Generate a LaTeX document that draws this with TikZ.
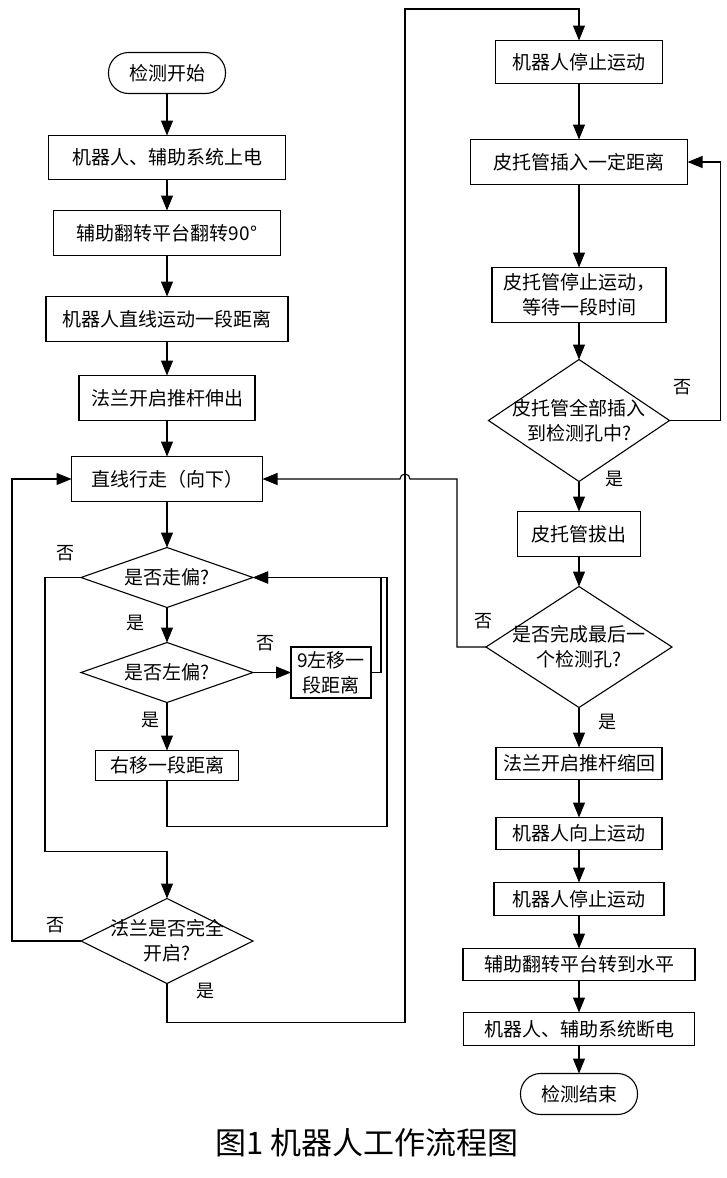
\documentclass[tikz,border=0pt]{standalone}
\usepackage{fontspec}
\setmainfont{Noto Sans CJK SC}
\usetikzlibrary{shapes.geometric, arrows.meta, positioning, calc}

\begin{document}
\begin{tikzpicture}[
    x=1pt, y=-1pt,
    every node/.style={font=\fontsize{19pt}{25pt}\selectfont},
    process/.style={rectangle, draw, line width=1.1pt, inner sep=0pt, outer sep=0pt, align=center, minimum height=45pt},
    terminal/.style={rectangle, draw, rounded corners=20pt, line width=1.1pt, inner sep=0pt, outer sep=0pt, minimum width=117pt, minimum height=41pt},
    decision/.style={diamond, draw, line width=1.1pt, inner sep=0pt, outer sep=0pt, minimum width=172pt, minimum height=60pt},
    yn/.style={inner sep=0pt, font=\fontsize{18pt}{22pt}\selectfont},
    arrow/.style={line width=1.1pt, -{Triangle[length=15pt, width=12pt]}}
]
    \useasboundingbox (0,0) rectangle (727,1178);

    % Left column
    \node[terminal] (start) at (167,73) {检测开始};
    \node[process, minimum width=237pt, minimum height=44pt, below=42pt of start] (power) {机器人、辅助系统上电};
    \node[process, minimum width=227pt, below=31pt of power] (turn) {辅助翻转平台翻转90°};
    \node[process, minimum width=242pt, below=41pt of turn] (move) {机器人直线运动一段距离};
    \node[process, minimum width=176pt, below=34pt of move] (rodout) {法兰开启推杆伸出};
    \node[process, minimum width=191pt, below=36pt of rodout] (walk) {直线行走（向下）};

    % Deviation check
    \node[decision, below=46pt of walk, label={[align=center]center:是否走偏?}] (dev) {};
    \node[decision, below=35pt of dev, label={[align=center]center:是否左偏?}] (left) {};
    \node[process, minimum width=80pt, minimum height=51pt, right=38pt of left] (shiftl) {9左移一\\段距离};
    \node[process, minimum width=143pt, minimum height=30pt, below=48pt of left] (shiftr) {右移一段距离};
    \node[decision, minimum height=85pt, below=118pt of shiftr, label={[align=center]center:法兰是否完全\\开启?}] (open) {};

    % Right column
    \node[process, minimum width=167pt, minimum height=43pt] (stop) at (579,62) {机器人停止运动};
    \node[process, minimum width=217pt, below=56pt of stop] (insert) {皮托管插入一定距离};
    \node[process, minimum width=174pt, minimum height=55pt, below=83pt of insert] (wait) {皮托管停止运动，\\等待一段时间};
    \node[decision, minimum width=181pt, minimum height=122pt, below=37pt of wait, label={[align=center]center:皮托管全部插入\\到检测孔中?}] (full) {};
    \node[process, minimum width=123pt, below=30pt of full] (pull) {皮托管拔出};
    \node[decision, minimum width=186pt, minimum height=121pt, below=30pt of pull, label={[align=center]center:是否完成最后一\\个检测孔?}] (last) {};
    \node[process, minimum width=166pt, minimum height=32pt, below=40pt of last] (rodin) {法兰开启推杆缩回};
    \node[process, minimum width=166pt, minimum height=32pt, below=38pt of rodin] (up) {机器人向上运动};
    \node[process, minimum width=170pt, minimum height=33pt, below=33pt of up] (halt) {机器人停止运动};
    \node[process, minimum width=232pt, minimum height=32pt, below=33pt of halt] (level) {辅助翻转平台转到水平};
    \node[process, minimum width=231pt, minimum height=33pt, below=32pt of level] (off) {机器人、辅助系统断电};
    \node[terminal, below=28pt of off] (finish) {检测结束};

    % Yes / no labels
    \node[yn] (n1) at ($(dev.west)+(-16,-24)$) {否};
    \node[yn] (y1) at ($(dev.south)+(-32,16)$) {是};
    \node[yn] (n2) at ($(left.east)+(12,-29)$) {否};
    \node[yn] (y2) at ($(left.south)+(-17,18)$) {是};
    \node[yn] (n3) at ($(open.west)+(-26,-16)$) {否};
    \node[yn] (y3) at ($(open.south)+(38,8)$) {是};
    \node[yn] (n4) at ($(full.east)+(13,-33)$) {否};
    \node[yn] (y4) at ($(full.south)+(35,-2)$) {是};
    \node[yn] (n5) at ($(last.west)+(-3,-26)$) {否};
    \node[yn] (y5) at ($(last.south)+(28,15)$) {是};

    \coordinate (topturn) at (405,9);

    % Arrows - left column
    \draw[arrow] (start) -- (power);
    \draw[arrow] (power) -- (turn);
    \draw[arrow] (turn) -- (move);
    \draw[arrow] (move) -- (rodout);
    \draw[arrow] (rodout) -- (walk);
    \draw[arrow] (walk) -- (dev);
    \draw[arrow] (dev) -- (left);
    \draw[arrow] (left) -- (shiftr);
    \draw[arrow] (left) -- (shiftl);

    % Arrows - deviation loops
    \draw[arrow] (shiftl.east) -- ++(10,0) |- (dev.east);
    \draw[arrow] (shiftr.south) -- ++(0,46) -| ($(dev.east)+(134,0)$) -- (dev.east);
    \draw[arrow] (dev.west) -- ++(-36,0) |- ($(open.north)+(0,-47)$) -- (open.north);
    \draw[arrow] (open.west) -- ++(-69,0) |- (walk.west);
    \draw[arrow] (open.south) -- ++(0,39) -| (topturn) -| (stop.north);

    % Arrows - right column
    \draw[arrow] (stop) -- (insert);
    \draw[arrow] (insert) -- (wait);
    \draw[arrow] (wait) -- (full);
    \draw[arrow] (full) -- (pull);
    \draw[arrow] (pull) -- (last);
    \draw[arrow] (last) -- (rodin);
    \draw[arrow] (rodin) -- (up);
    \draw[arrow] (up) -- (halt);
    \draw[arrow] (halt) -- (level);
    \draw[arrow] (level) -- (off);
    \draw[arrow] (off) -- (finish);
    \draw[arrow] (full.east) -- ++(51,0) |- (insert.east);
    \draw[arrow] (last.west) -- ++(-29,0) |- ($(topturn |- walk.east)+(5,0)$)
        arc[start angle=0, end angle=180, radius=5pt] -- (walk.east);

    % Caption
    \node[font=\fontsize{31pt}{34pt}\selectfont] (caption) at (367,1143) {图1 机器人工作流程图};

\end{tikzpicture}
\end{document}
